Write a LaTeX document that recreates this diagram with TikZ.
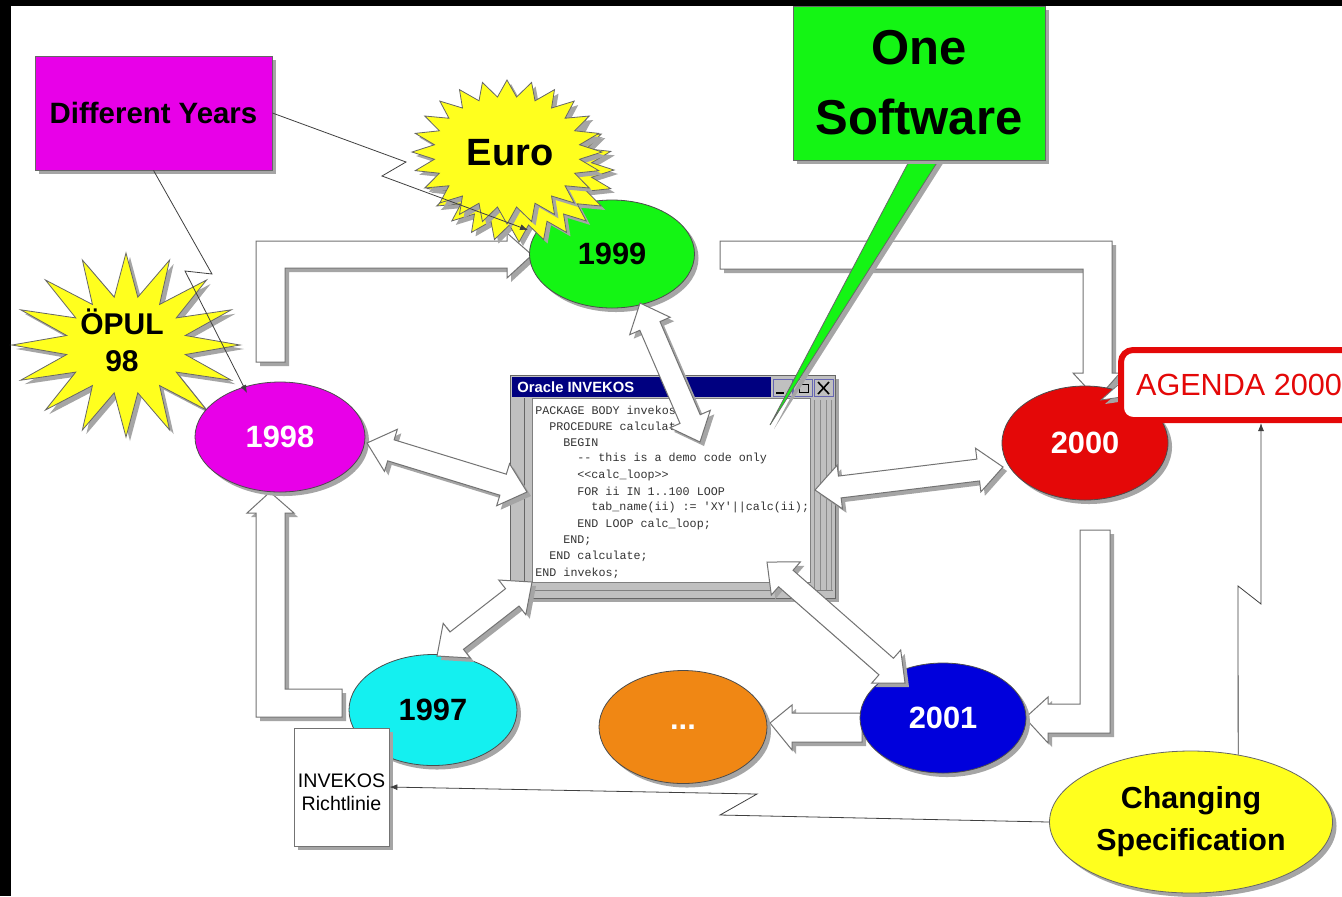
\documentclass[tikz,border=0pt]{standalone}
\usepackage{fontspec}
\setmainfont{Liberation Sans}
\setmonofont{Liberation Mono}
\usetikzlibrary{shapes.geometric,shadows,calc,arrows.meta}

\definecolor{mymagenta}{RGB}{232,0,232}
\definecolor{mygreen}{RGB}{20,245,20}
\definecolor{myyellow}{RGB}{255,255,30}
\definecolor{myred}{RGB}{228,8,8}
\definecolor{mycyan}{RGB}{20,240,240}
\definecolor{myorange}{RGB}{240,135,20}
\definecolor{myblue}{RGB}{0,0,220}
\definecolor{mynavy}{RGB}{0,0,128}
\definecolor{wingray}{RGB}{192,192,192}
\definecolor{shadowgray}{RGB}{165,165,165}

% wide two-headed arrow between two named points
\newcommand{\dblarrow}[2]{%
  \coordinate (p1) at ($(#1)!12.5pt!(#2)$);
  \coordinate (p2) at ($(#2)!12.5pt!(#1)$);
  \draw[blockarrow] (#1) -- ($(p1)!11pt!90:(#2)$) -- ($(p1)!5.5pt!90:(#2)$)
    -- ($(p2)!5.5pt!-90:(#1)$) -- ($(p2)!11pt!-90:(#1)$) -- (#2)
    -- ($(p2)!11pt!90:(#1)$) -- ($(p2)!5.5pt!90:(#1)$)
    -- ($(p1)!5.5pt!-90:(#2)$) -- ($(p1)!11pt!-90:(#2)$) -- cycle;
}

\begin{document}
\begin{tikzpicture}[x = .5pt, y = -.5pt]
		\tikzstyle{dropsh} = [drop shadow = {shadow xshift = 2pt, shadow yshift = -2pt, fill = shadowgray, opacity = 1}]
		\tikzstyle{year} = [ellipse, draw = black!70, inner sep = 0pt, dropsh, font = \bfseries\fontsize{15.4}{18}\selectfont]
		\tikzstyle{blockarrow} = [fill = white, draw = black!55, line width = .5pt, dropsh]
		\tikzstyle{starry} = [fill = myyellow, draw = black!60, line width = .4pt, dropsh]
		\tikzstyle{thin} = [draw = black!75, line width = .4pt]
		\tikzstyle{tip} = [-{Latex[length = 4pt, width = 3pt]}]
		\tikzstyle{codeline} = [anchor = west, inner sep = 0pt, text = black!80, font = \ttfamily\fontsize{5.85}{7}\selectfont]

		\useasboundingbox (0,0) rectangle (1342,896);
		\fill[white] (0,0) rectangle (1342,896);
		\fill[black] (0,0) rectangle (1342,6); %top band
		\fill[black] (0,0) rectangle (11,896); %left band

		% the yearly cycle
		\draw[blockarrow] (256,362) -- (256,241) -- (507,241) -- (507,233) -- (532,255) -- (507,278) -- (507,268) -- (285,268) -- (285,362) -- cycle; %98 to 99
		\draw[blockarrow] (720,241) -- (1112,241) -- (1112,373) -- (1120,373) -- (1097,399) -- (1073,373) -- (1083,373) -- (1083,269) -- (720,269) -- cycle; %99 to 00
		\draw[blockarrow] (1080,530) -- (1080,704) -- (1048,704) -- (1048,697) -- (1025,718) -- (1048,743) -- (1048,733) -- (1110,733) -- (1110,530) -- cycle; %00 to 01
		\draw[blockarrow] (862,713) -- (792,713) -- (792,705) -- (770,723) -- (792,750) -- (792,742) -- (862,742) -- cycle; %01 to ...
		\draw[blockarrow] (342,689) -- (285,689) -- (285,513) -- (294,513) -- (270,492) -- (247,513) -- (256,513) -- (256,717) -- (342,717) -- cycle; %97 to 98

		% ÖPUL star
		\draw[starry, shift = {(126,345)}] (0:114 and 92)
			\foreach \i [evaluate = \i as \f using {mod(\i,2) == 0 ? 1 : 0.53}] in {1,...,31} { -- ({\i*11.25}:{\f*114} and {\f*92}) } -- cycle;
		\node[font = \bfseries\fontsize{15}{18.5}\selectfont, align = center, inner sep = 0pt] (opul) at (122,340) {ÖPUL\\98};

		\draw[thin] (357,728) -- (357,757) -- (388,757);

		\node[year, fill = mymagenta, text = white, minimum width = 85pt, minimum height = 55pt] (e98) at (280,437) {1998};
		\node[year, fill = mygreen, minimum width = 82.5pt, minimum height = 54pt] (e99) at (612,254) {1999};
		\node[year, fill = myred, text = white, minimum width = 83pt, minimum height = 57pt] (e00) at (1085,443) {2000};
		\node[year, fill = myblue, text = white, minimum width = 83pt, minimum height = 55pt] (e01) at (943,718) {2001};
		\node[year, fill = myorange, text = white, minimum width = 84pt, minimum height = 56.5pt] (edots) at (683,727) {...};
		\node[year, fill = mycyan, minimum width = 84pt, minimum height = 55.5pt] (e97) at (433,710) {1997};

		% Euro star, a second copy peeps out below
		\foreach \cx/\cy in {519/170, 507/152}
		{
			\draw[starry, shift = {(\cx,\cy)}] (0:95 and 72)
				\foreach \i [evaluate = \i as \f using {mod(\i,2) == 0 ? 1 : 0.77}] in {1,...,47} { -- ({\i*7.5}:{\f*95} and {\f*72}) } -- cycle;
		}
		\node[font = \bfseries\fontsize{19}{22}\selectfont, inner sep = 0pt] (euro) at (510,153) {Euro};

		% window
		\node[draw = black!60, fill = wingray, minimum width = 162.5pt, minimum height = 111.5pt, inner sep = 0pt, dropsh] (win) at (672.5,486.5) {};
		\fill[mynavy] (512,377) rectangle (771,397);
		\node[anchor = west, inner sep = 0pt, text = white, font = \bfseries\fontsize{7.4}{9}\selectfont] (title) at (517,387) {Oracle INVEKOS};
		\foreach \bx in {773,793,814}
			\draw[fill = wingray, draw = mynavy!60] (\bx,379) rectangle ++(19,17);
		\draw[line width = 1pt] (776,393) -- (784,393);
		\draw (799,384) rectangle (808,392);
		\draw[line width = .8pt] (818,382) -- (829,394) (818,394) -- (829,382);
		\fill[white] (532,398) rectangle (810,582);
		\draw[black!50] (532,398) rectangle (810,582);
		\foreach \sx in {814,820,826,831}
			\draw[black!45] (\sx,400) -- (\sx,590);
		\draw[black!60] (524,398) -- (524,590);
		\draw[black!50] (512,590) -- (833,590);
		\foreach \ind/\txt [count = \i from 0] in {0/PACKAGE BODY invekos, 2/PROCEDURE calculate, 4/BEGIN, 6/-- this is a demo code only, 6/<<calc\_loop>>, 6/FOR ii IN 1..100 LOOP, 8/tab\_name(ii) := 'XY'||calc(ii);, 6/END LOOP calc\_loop;, 4/END;, 2/END calculate;, 0/END invekos;}
			\node[codeline] (code\i) at ({535+7*\ind},{410+16.3*\i}) {\txt};

		% two-headed arrows to the window
		\coordinate (t98) at (367,443); \coordinate (w98) at (527,492);
		\coordinate (t99) at (640,303); \coordinate (w99) at (700,442);
		\coordinate (t00) at (1003,467); \coordinate (w00) at (815,490);
		\coordinate (t97) at (437,656); \coordinate (w97) at (532,582);
		\coordinate (t01) at (905,683); \coordinate (w01) at (767,562);
		\dblarrow{t98}{w98}
		\dblarrow{t99}{w99}
		\dblarrow{t00}{w00}
		\dblarrow{t97}{w97}
		\dblarrow{t01}{w01}

		% callouts
		\draw[fill = mygreen, draw = black!60, dropsh] (915,150) -- (770,425) -- (945,150) -- cycle;
		\node[draw = black!60, fill = mygreen, minimum width = 126pt, minimum height = 77pt, align = center, dropsh, font = \bfseries\fontsize{24.5}{35}\selectfont] (onesw) at (919,83) {One\\Software};
		\node[draw = black!60, fill = mymagenta, minimum width = 118.5pt, minimum height = 57pt, dropsh, font = \bfseries\fontsize{14.7}{17}\selectfont] (years) at (153.5,113) {Different Years};
		\draw[fill = white, draw = black!55, dropsh] (1128,376) -- (1101,400) -- (1128,396) -- cycle;
		\node[draw = myred, line width = 3pt, fill = white, rounded corners = 6pt, minimum width = 118pt, minimum height = 35pt, text = myred, font = \fontsize{15.3}{18}\selectfont] (agenda) at (1239,385) {AGENDA 2000};
		\node[draw = black!55, fill = white, minimum width = 47.5pt, minimum height = 59pt, dropsh] (inv) at (341.5,787) {};
		\node[align = center, inner sep = 0pt, font = \fontsize{9.8}{11.5}\selectfont] (invtxt) at (341.5,792) {INVEKOS\\Richtlinie};
		\node[ellipse, draw = black!60, fill = myyellow, inner sep = 0pt, minimum width = 141.5pt, minimum height = 71pt, align = center, dropsh, font = \bfseries\fontsize{15.2}{21}\selectfont] (spec) at (1191,822) {Changing\\Specification};

		% thin pointers
		\coordinate (y1) at (528,230); \coordinate (y2) at (247,393);
		\draw[thin, tip] (years.east) -- (406,162) -- (382,176) -- (y1);
		\draw[thin, tip] (years.south) -- (212,274) -- (185,271) -- (y2);
		\draw[thin, tip] (spec.west) -- (720,815) -- (757,794) -- (inv.east);
		\coordinate (k1) at (1261,604);
		\draw[thin, tip] (spec.55) -- (1238,586) -- (k1) -- (k1 |- agenda.south);
	\end{tikzpicture}
\end{document}
